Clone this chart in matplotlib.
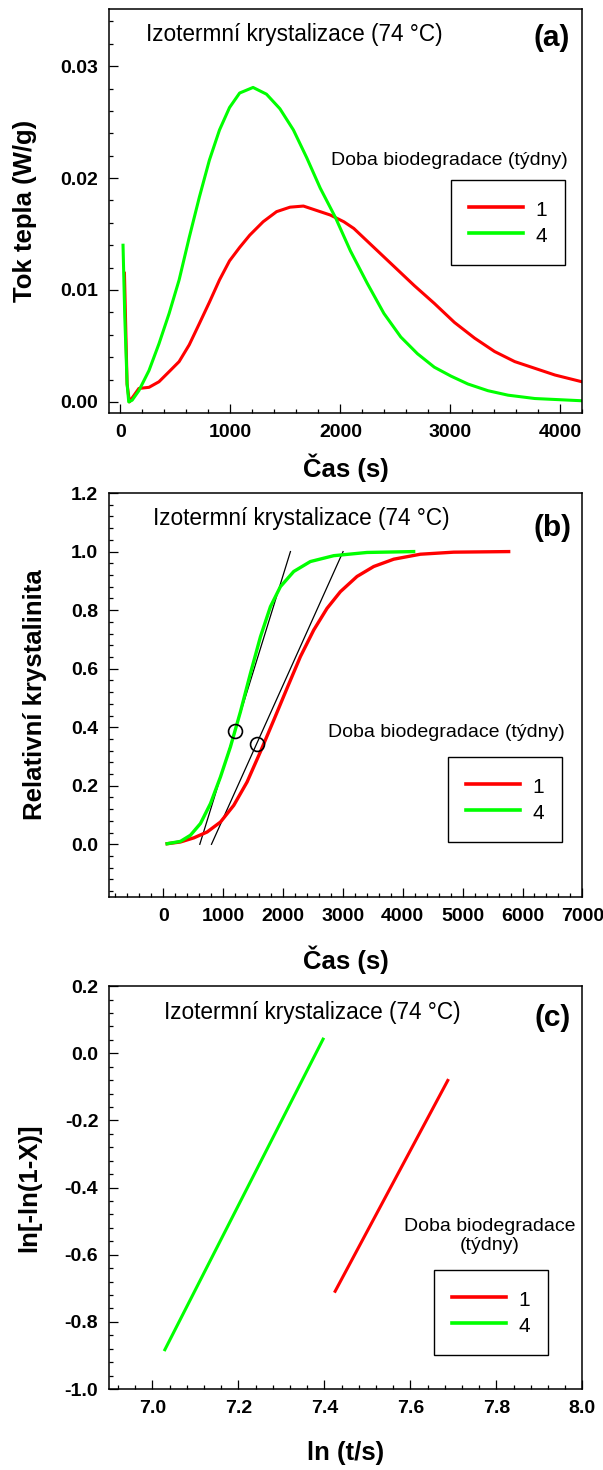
import matplotlib
matplotlib.use("Agg")
import matplotlib.pyplot as plt
import numpy as np
from matplotlib.ticker import MultipleLocator

plt.rcParams["font.family"] = ["Liberation Sans", "DejaVu Sans"]

RED = "#ff0000"
GREEN = "#00ff00"
SERIES_LABELS = ["1", "4"]
TITLE = "Izotermní krystalizace (74 °C)"
LEGEND_TITLE = "Doba biodegradace (týdny)"

# (a) heat flow vs time
heat_time_1 = [37, 61, 82, 168, 260, 351, 443, 534, 626, 718, 809, 901, 992, 1084, 1176, 1298, 1420,
               1542, 1664, 1786, 1908, 2031, 2122, 2305, 2488, 2671, 2854, 3037, 3220, 3402, 3585,
               3768, 3951, 4195]
heat_flow_1 = [0.0115, 0.0016, 0.0, 0.0012, 0.0013, 0.0018, 0.0027, 0.0036, 0.0051, 0.0070, 0.0089,
               0.0109, 0.0126, 0.0138, 0.0149, 0.0161, 0.0170, 0.0174, 0.0175, 0.0171, 0.0167,
               0.0161, 0.0155, 0.0138, 0.0121, 0.0104, 0.0088, 0.0071, 0.0057, 0.0045, 0.0036,
               0.0030, 0.0024, 0.0018]
heat_time_4 = [24, 40, 61, 76, 107, 168, 260, 351, 443, 534, 626, 718, 809, 901, 992, 1084, 1206,
               1328, 1450, 1573, 1695, 1817, 1954, 2091, 2244, 2396, 2549, 2701, 2854, 3006, 3159,
               3341, 3524, 3768, 4195]
heat_flow_4 = [0.0140, 0.0076, 0.0016, 0.0, 0.00015, 0.0010, 0.0028, 0.0052, 0.0079, 0.0109, 0.0147,
               0.0183, 0.0216, 0.0243, 0.0263, 0.0276, 0.0281, 0.0275, 0.0262, 0.0243, 0.0218,
               0.0191, 0.0165, 0.0135, 0.0106, 0.0079, 0.0058, 0.0043, 0.0031, 0.0023, 0.0016,
               0.0010, 0.0006, 0.0003, 0.0001]

# (b) relative crystallinity vs time
cryst_time_1 = [65, 287, 510, 732, 955, 1177, 1400, 1622, 1845, 2067, 2290, 2513, 2735, 2958, 3236,
                3515, 3849, 4294, 4850, 5769]
cryst_1 = [0.002, 0.008, 0.022, 0.042, 0.076, 0.133, 0.213, 0.316, 0.424, 0.533, 0.641, 0.732, 0.806,
           0.863, 0.915, 0.949, 0.974, 0.991, 0.998, 1.0]
cryst_time_4 = [65, 287, 454, 621, 788, 955, 1122, 1289, 1456, 1623, 1790, 1956, 2179, 2457, 2847,
                3403, 4182]
cryst_4 = [0.002, 0.010, 0.031, 0.071, 0.139, 0.230, 0.333, 0.453, 0.584, 0.709, 0.812, 0.880, 0.932,
           0.966, 0.986, 0.997, 1.0]
tangent_time_1 = [805, 3003]
tangent_time_4 = [610, 2124]
tangent_x = [0.0, 1.0]
half_time = [1560, 1190]
half_cryst = [0.342, 0.387]

# (c) Avrami plot
ln_t_1 = [7.425, 7.687]
avrami_1 = [-0.709, -0.081]
ln_t_4 = [7.029, 7.397]
avrami_4 = [-0.883, 0.042]


def style_axes(ax, xminor, yminor):
    for sp in ax.spines.values():
        sp.set_linewidth(1.1)
        sp.set_color("black")
    ax.xaxis.set_minor_locator(MultipleLocator(xminor))
    ax.yaxis.set_minor_locator(MultipleLocator(yminor))
    ax.tick_params(which="both", direction="in", top=False, right=False, width=0.9)
    ax.tick_params(which="major", length=6.5, labelsize=14, pad=8)
    ax.tick_params(which="minor", length=3)
    for lab in ax.get_xticklabels() + ax.get_yticklabels():
        lab.set_fontweight("bold")


def add_labels(ax, xlabel, ylabel, xlab_y, ylab_x):
    ax.set_xlabel(xlabel, fontsize=18.5, fontweight="bold")
    ax.set_ylabel(ylabel, fontsize=18.5, fontweight="bold")
    ax.xaxis.label.set_va("center")
    ax.yaxis.label.set_va("center")
    ax.xaxis.set_label_coords(0.5, xlab_y)
    ax.yaxis.set_label_coords(ylab_x, 0.5)


def add_legend(ax, handles, x, y):
    leg = ax.legend(handles, SERIES_LABELS, loc="upper left", bbox_to_anchor=(x, y),
                    borderaxespad=0, fancybox=False, framealpha=1, edgecolor="black",
                    fontsize=15, handlelength=2.6, handletextpad=0.6, borderpad=0.85,
                    labelspacing=0.12, handleheight=1.35)
    leg.get_frame().set_linewidth(1.0)
    for line in leg.get_lines():
        line.set_linewidth(2.6)


fig = plt.figure(figsize=(6.03, 14.7), dpi=100)
ax_a = fig.add_axes([0.1814, 0.7190, 0.7844, 0.2748])
ax_b = fig.add_axes([0.1814, 0.3898, 0.7844, 0.2748])
ax_c = fig.add_axes([0.1814, 0.0551, 0.7844, 0.2741])

# panel a
l1, = ax_a.plot(heat_time_1, heat_flow_1, color=RED, lw=2.2)
l4, = ax_a.plot(heat_time_4, heat_flow_4, color=GREEN, lw=2.2)
ax_a.set_xlim(-100, 4200)
ax_a.set_ylim(-0.001, 0.0351)
ax_a.set_xticks([0, 1000, 2000, 3000, 4000])
ax_a.set_yticks([0.0, 0.01, 0.02, 0.03])
ax_a.set_yticklabels(["0.00", "0.01", "0.02", "0.03"])
style_axes(ax_a, 200, 0.002)
add_labels(ax_a, "Čas (s)", "Tok tepla (W/g)", -0.136, -0.178)
ax_a.text(0.077, 0.936, TITLE, transform=ax_a.transAxes, fontsize=16.3, ha="left", va="center")
ax_a.text(0.974, 0.928, "(a)", transform=ax_a.transAxes, fontsize=21.5, fontweight="bold",
          ha="right", va="center")
ax_a.text(0.718, 0.626, LEGEND_TITLE, transform=ax_a.transAxes, fontsize=14, ha="center", va="center")
add_legend(ax_a, [l1, l4], 0.722, 0.577)

# panel b
ax_b.plot(tangent_time_1, tangent_x, color="black", lw=0.9)
ax_b.plot(tangent_time_4, tangent_x, color="black", lw=0.9)
m1, = ax_b.plot(cryst_time_1, cryst_1, color=RED, lw=2.4)
m4, = ax_b.plot(cryst_time_4, cryst_4, color=GREEN, lw=2.4)
ax_b.plot(half_time, half_cryst, ls="none", marker="o", ms=10, mfc="none", mec="black", mew=1.2)
ax_b.set_xlim(-900, 7000)
ax_b.set_ylim(-0.18, 1.2)
ax_b.set_xticks(np.arange(0, 7001, 1000))
ax_b.set_yticks(np.arange(0, 1.21, 0.2))
ax_b.set_yticklabels([f"{v:.1f}" for v in np.arange(0, 1.21, 0.2)])
style_axes(ax_b, 200, 0.04)
add_labels(ax_b, "Čas (s)", "Relativní krystalinita", -0.156, -0.157)
ax_b.text(0.092, 0.938, TITLE, transform=ax_b.transAxes, fontsize=16.3, ha="left", va="center")
ax_b.text(0.976, 0.913, "(b)", transform=ax_b.transAxes, fontsize=21.5, fontweight="bold",
          ha="right", va="center")
ax_b.text(0.712, 0.406, LEGEND_TITLE, transform=ax_b.transAxes, fontsize=14, ha="center", va="center")
add_legend(ax_b, [m1, m4], 0.716, 0.347)

# panel c
n1, = ax_c.plot(ln_t_1, avrami_1, color=RED, lw=2.2)
n4, = ax_c.plot(ln_t_4, avrami_4, color=GREEN, lw=2.2)
ax_c.set_xlim(6.9, 8.0)
ax_c.set_ylim(-1.0, 0.2)
ax_c.set_xticks(np.arange(7.0, 8.01, 0.2))
ax_c.set_xticklabels([f"{v:.1f}" for v in np.arange(7.0, 8.01, 0.2)])
ax_c.set_yticks(np.arange(-1.0, 0.21, 0.2))
ax_c.set_yticklabels([f"{v:.1f}" if abs(v) > 1e-9 else "0.0" for v in np.arange(-1.0, 0.21, 0.2)])
style_axes(ax_c, 0.04, 0.04)
add_labels(ax_c, "ln (t/s)", "ln[-ln(1-X)]", -0.159, -0.170)
ax_c.text(0.115, 0.935, TITLE, transform=ax_c.transAxes, fontsize=16.3, ha="left", va="center")
ax_c.text(0.976, 0.921, "(c)", transform=ax_c.transAxes, fontsize=21.5, fontweight="bold",
          ha="right", va="center")
ax_c.text(0.805, 0.380, "Doba biodegradace\n(týdny)", transform=ax_c.transAxes, fontsize=14,
          ha="center", va="center", multialignment="center", linespacing=1.1)
add_legend(ax_c, [n1, n4], 0.686, 0.295)

fig.savefig("out.png", dpi=100)
